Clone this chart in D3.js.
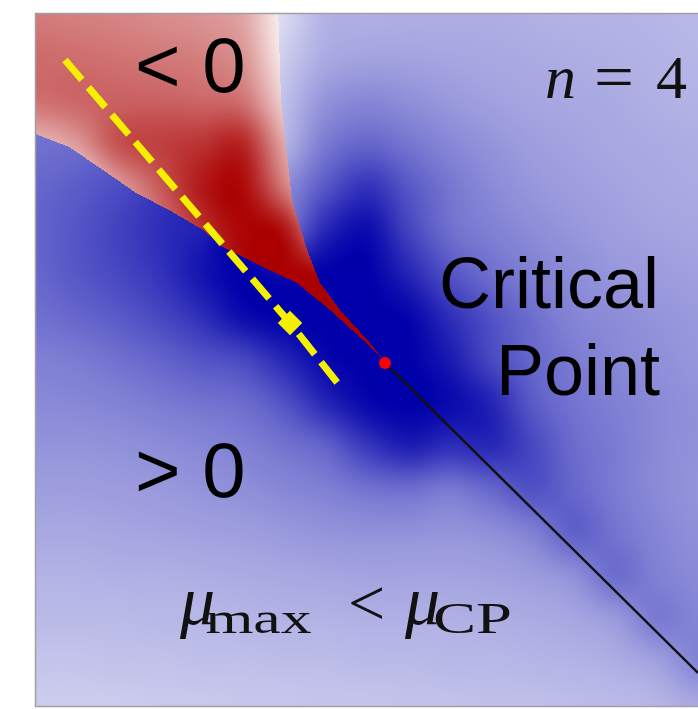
<!DOCTYPE html>
<html><head><meta charset="utf-8">
<script src="https://cdn.jsdelivr.net/npm/d3@7"></script>
<style>
html,body{margin:0;padding:0;background:#fff;}
#wrap{position:relative;width:698px;height:709px;overflow:hidden;}
canvas,svg{position:absolute;left:0;top:0;}
</style></head><body>
<div id="wrap"><canvas id="heat" width="698" height="709"></canvas><svg id="chart" width="698" height="709"></svg></div>
<script>
// ---------- DATA (unit coordinates: x 0..1 left→right, y 0..1 bottom→top) ----------
// Blue (positive) magnitude sampled on a 17x17 grid, rows from top (y=1) to bottom (y=0)
const blueGrid = [
 [0.55,0.55,0.50,0.40,0.20,0.05,0.15,0.30,0.31,0.32,0.32,0.32,0.31,0.30,0.30,0.29,0.28],
 [0.55,0.55,0.50,0.40,0.20,0.05,0.20,0.33,0.36,0.36,0.35,0.34,0.33,0.32,0.31,0.30,0.29],
 [0.55,0.56,0.56,0.50,0.30,0.10,0.25,0.42,0.47,0.44,0.40,0.37,0.35,0.34,0.33,0.31,0.30],
 [0.56,0.58,0.62,0.65,0.50,0.20,0.30,0.52,0.60,0.54,0.47,0.42,0.38,0.36,0.34,0.33,0.32],
 [0.60,0.64,0.70,0.78,0.80,0.40,0.45,0.66,0.80,0.66,0.54,0.46,0.41,0.38,0.36,0.34,0.33],
 [0.61,0.67,0.74,0.82,0.88,0.95,0.60,0.85,0.95,0.74,0.57,0.50,0.45,0.41,0.38,0.36,0.35],
 [0.60,0.66,0.72,0.80,0.92,1.00,0.95,1.00,1.00,0.86,0.68,0.57,0.50,0.45,0.41,0.39,0.37],
 [0.56,0.60,0.65,0.72,0.82,0.95,1.00,1.00,1.00,0.98,0.82,0.68,0.57,0.48,0.45,0.42,0.40],
 [0.50,0.52,0.56,0.61,0.67,0.72,0.85,0.97,1.00,1.00,0.90,0.72,0.60,0.52,0.47,0.44,0.41],
 [0.46,0.47,0.49,0.52,0.55,0.58,0.68,0.85,0.97,1.00,0.96,0.86,0.65,0.55,0.50,0.46,0.43],
 [0.42,0.42,0.43,0.45,0.47,0.50,0.55,0.62,0.78,0.88,0.82,0.84,0.72,0.58,0.52,0.46,0.43],
 [0.38,0.38,0.39,0.40,0.42,0.44,0.47,0.50,0.55,0.57,0.53,0.60,0.68,0.60,0.52,0.46,0.42],
 [0.34,0.34,0.35,0.36,0.37,0.38,0.40,0.42,0.43,0.43,0.42,0.44,0.50,0.62,0.55,0.48,0.44],
 [0.30,0.30,0.31,0.31,0.32,0.33,0.34,0.35,0.36,0.36,0.36,0.37,0.39,0.44,0.57,0.50,0.46],
 [0.27,0.27,0.27,0.28,0.28,0.29,0.30,0.30,0.31,0.31,0.31,0.32,0.33,0.35,0.40,0.52,0.48],
 [0.23,0.23,0.24,0.24,0.25,0.25,0.26,0.26,0.27,0.27,0.28,0.28,0.29,0.30,0.32,0.37,0.48],
 [0.20,0.20,0.20,0.21,0.21,0.22,0.22,0.23,0.23,0.24,0.24,0.25,0.25,0.26,0.27,0.29,0.34]
];
// Red (negative) magnitude on the same grid (only used inside the red region)
const redGrid = [
 [0.52,0.50,0.48,0.45,0.42,0.35,0.05,0,0,0,0,0,0,0,0,0,0],
 [0.58,0.57,0.55,0.53,0.50,0.42,0.08,0,0,0,0,0,0,0,0,0,0],
 [0.56,0.60,0.62,0.62,0.60,0.55,0.18,0,0,0,0,0,0,0,0,0,0],
 [0.28,0.40,0.68,0.75,0.80,0.85,0.35,0,0,0,0,0,0,0,0,0,0],
 [0.10,0.10,0.38,0.65,0.90,0.96,0.52,0,0,0,0,0,0,0,0,0,0],
 [0,0,0.20,0.50,0.80,0.98,0.92,0.30,0,0,0,0,0,0,0,0,0],
 [0,0,0,0.30,0.68,0.96,1.00,0.92,0.40,0,0,0,0,0,0,0,0],
 [0,0,0,0,0.48,0.90,1.00,1.00,0.95,0.50,0,0,0,0,0,0,0],
 [0,0,0,0,0,0.75,0.95,1.00,1.00,0.90,0,0,0,0,0,0,0],
 [0,0,0,0,0,0.55,0.85,0.95,1.00,0.90,0,0,0,0,0,0,0],
 [0,0,0,0,0,0,0,0,0,0,0,0,0,0,0,0,0],
 [0,0,0,0,0,0,0,0,0,0,0,0,0,0,0,0,0],
 [0,0,0,0,0,0,0,0,0,0,0,0,0,0,0,0,0],
 [0,0,0,0,0,0,0,0,0,0,0,0,0,0,0,0,0],
 [0,0,0,0,0,0,0,0,0,0,0,0,0,0,0,0,0],
 [0,0,0,0,0,0,0,0,0,0,0,0,0,0,0,0,0],
 [0,0,0,0,0,0,0,0,0,0,0,0,0,0,0,0,0]
];
// Region where the quantity is negative (< 0)
const redRegion = [
 [-0.01,1.01],[0.3656,1.01],[0.3701,0.8757],[0.3867,0.7312],[0.4094,0.6590],[0.4290,0.6113],
 [0.4592,0.5723],[0.5045,0.5246],[0.5227,0.5029],[0.4940,0.5289],[0.4441,0.5723],[0.3943,0.6113],
 [0.3429,0.6344],[0.2825,0.6633],[0.2523,0.6879],[0.2009,0.7168],[0.1511,0.7413],[0.1012,0.7746],
 [0.0498,0.8078],[-0.01,0.8300]
];
const criticalPoint = [0.5272, 0.4957];
const widomLine = [[0.5272, 0.4957],[1.0, 0.0477]];
const yellowLine = [[0.0438, 0.9335],[0.3837, 0.5535],[0.4592, 0.4624]];
const yellowMarker = [0.3837, 0.5535];
const labels = [
 {text:"< 0", x:0.1495, y:0.8873, size:78, anchor:"start"},
 {text:"> 0", x:0.1495, y:0.3020, size:78, anchor:"start"},
 {text:"Critical", x:0.9411, y:0.5751, size:72, anchor:"end"},
 {text:"Point", x:0.9426, y:0.4494, size:72, anchor:"end"}
];

// ---------- SCALES ----------
const W = 698, H = 709;
const xs = d3.scaleLinear().domain([0,1]).range([36,698]);
const ys = d3.scaleLinear().domain([0,1]).range([706,14]);
const color = d3.scaleLinear().domain([-1,0,1]).range(["#aa0000","#ffffff","#0000aa"]).clamp(true);
const NG = blueGrid.length - 1;

// ---------- HEATMAP (bicubic resampling of the sampled grids) ----------
const lut = d3.range(0,1025).map(k => d3.rgb(color(k/512 - 1)));
function cr(p0,p1,p2,p3,t){
  return p1 + 0.5*t*(p2-p0 + t*(2*p0-5*p1+4*p2-p3 + t*(3*(p1-p2)+p3-p0)));
}
function at(g,j,i){ j = Math.max(0,Math.min(NG,j)); i = Math.max(0,Math.min(NG,i)); return g[j][i]; }
function bic(g, gx, gy){
  const i1 = Math.max(0, Math.min(NG-1, Math.floor(gx)));
  const j1 = Math.max(0, Math.min(NG-1, Math.floor(gy)));
  const fx = Math.max(0, Math.min(1, gx - i1)), fy = Math.max(0, Math.min(1, gy - j1));
  const r = [];
  for (let dj = -1; dj <= 2; dj++){
    const j = j1 + dj;
    r.push(cr(at(g,j,i1-1), at(g,j,i1), at(g,j,i1+1), at(g,j,i1+2), fx));
  }
  return Math.max(0, Math.min(1, cr(r[0],r[1],r[2],r[3],fy)));
}
const ctx = document.getElementById("heat").getContext("2d");
ctx.fillStyle = "#fff"; ctx.fillRect(0,0,W,H);
const px0 = Math.round(xs(0)), px1 = W, py0 = Math.round(ys(1)), py1 = Math.round(ys(0));
const img = ctx.createImageData(px1-px0, py1-py0);
let p = 0;
for (let py = py0; py < py1; py++){
  const yv = ys.invert(py+0.5);
  const gy = (1 - yv) * NG;
  for (let px = px0; px < px1; px++){
    const xv = xs.invert(px+0.5);
    const gx = xv * NG;
    let v;
    if (d3.polygonContains(redRegion, [xv, yv])) v = -bic(redGrid, gx, gy);
    else v = bic(blueGrid, gx, gy);
    const c = lut[Math.max(0, Math.min(1024, Math.round((v+1)*512)))];
    img.data[p++] = c.r; img.data[p++] = c.g; img.data[p++] = c.b; img.data[p++] = 255;
  }
}
ctx.putImageData(img, px0, py0);

// ---------- OVERLAY ----------
const svg = d3.select("#chart");
svg.append("rect").attr("x", xs(0)-0.5).attr("y", ys(1)-0.5)
  .attr("width", xs(1)-xs(0)+10).attr("height", ys(0)-ys(1)+1)
  .attr("fill","none").attr("stroke","#a0a0a0").attr("stroke-width",1.5);

const line = d3.line().x(d => xs(d[0])).y(d => ys(d[1]));
svg.append("path").attr("d", line(widomLine)).attr("fill","none")
  .attr("stroke","#111").attr("stroke-width",2.4);
svg.append("path").attr("d", line(yellowLine)).attr("fill","none")
  .attr("stroke","#f5f000").attr("stroke-width",7).attr("stroke-dasharray","26,10");
svg.append("path").attr("d", d3.symbol(d3.symbolSquare, 300)())
  .attr("transform", `translate(${xs(yellowMarker[0])},${ys(yellowMarker[1])}) rotate(45)`)
  .attr("fill","#f5f000");
svg.append("circle").attr("cx", xs(criticalPoint[0])).attr("cy", ys(criticalPoint[1]))
  .attr("r", 6).attr("fill","#ff0000");

svg.selectAll("text.lab").data(labels).join("text").attr("class","lab")
  .attr("x", d => xs(d.x)).attr("y", d => ys(d.y))
  .attr("text-anchor", d => d.anchor)
  .attr("font-family","'Liberation Sans', Arial, Helvetica, sans-serif")
  .attr("font-size", d => d.size).attr("fill","#000")
  .text(d => d.text);

const serif = "'Liberation Serif','Times New Roman',serif";
// n = 4
const nb = ys(0.8786);
svg.append("text").attr("x", xs(0.7689)).attr("y", nb).attr("font-family", serif)
  .attr("font-style","italic").attr("font-size",62).attr("fill","#111").text("n");
svg.append("text").attr("x", xs(0.8429)).attr("y", nb).attr("font-family", serif)
  .attr("font-size",64).attr("fill","#111").attr("textLength",40).attr("lengthAdjust","spacingAndGlyphs").text("=");
svg.append("text").attr("x", xs(0.9366)).attr("y", nb).attr("font-family", serif)
  .attr("font-size",62).attr("fill","#111").text("4");
// μmax < μCP
const mb = ys(0.1185);
svg.append("text").attr("x", xs(0.2175)).attr("y", mb).attr("font-family", serif)
  .attr("font-style","italic").attr("font-size",70).attr("fill","#111").text("μ");
svg.append("text").attr("x", xs(0.2560)).attr("y", mb+9).attr("font-family", serif)
  .attr("font-size",44).attr("fill","#111").attr("textLength",106).attr("lengthAdjust","spacingAndGlyphs").text("max");
svg.append("text").attr("x", xs(0.4713)).attr("y", mb+1).attr("font-family", serif)
  .attr("font-size",66).attr("fill","#111").text("<");
svg.append("text").attr("x", xs(0.5574)).attr("y", mb).attr("font-family", serif)
  .attr("font-style","italic").attr("font-size",70).attr("fill","#111").text("μ");
svg.append("text").attr("x", xs(0.5997)).attr("y", mb+9).attr("font-family", serif)
  .attr("font-size",44).attr("fill","#111").attr("textLength",79).attr("lengthAdjust","spacingAndGlyphs").text("CP");
</script>
</body></html>
